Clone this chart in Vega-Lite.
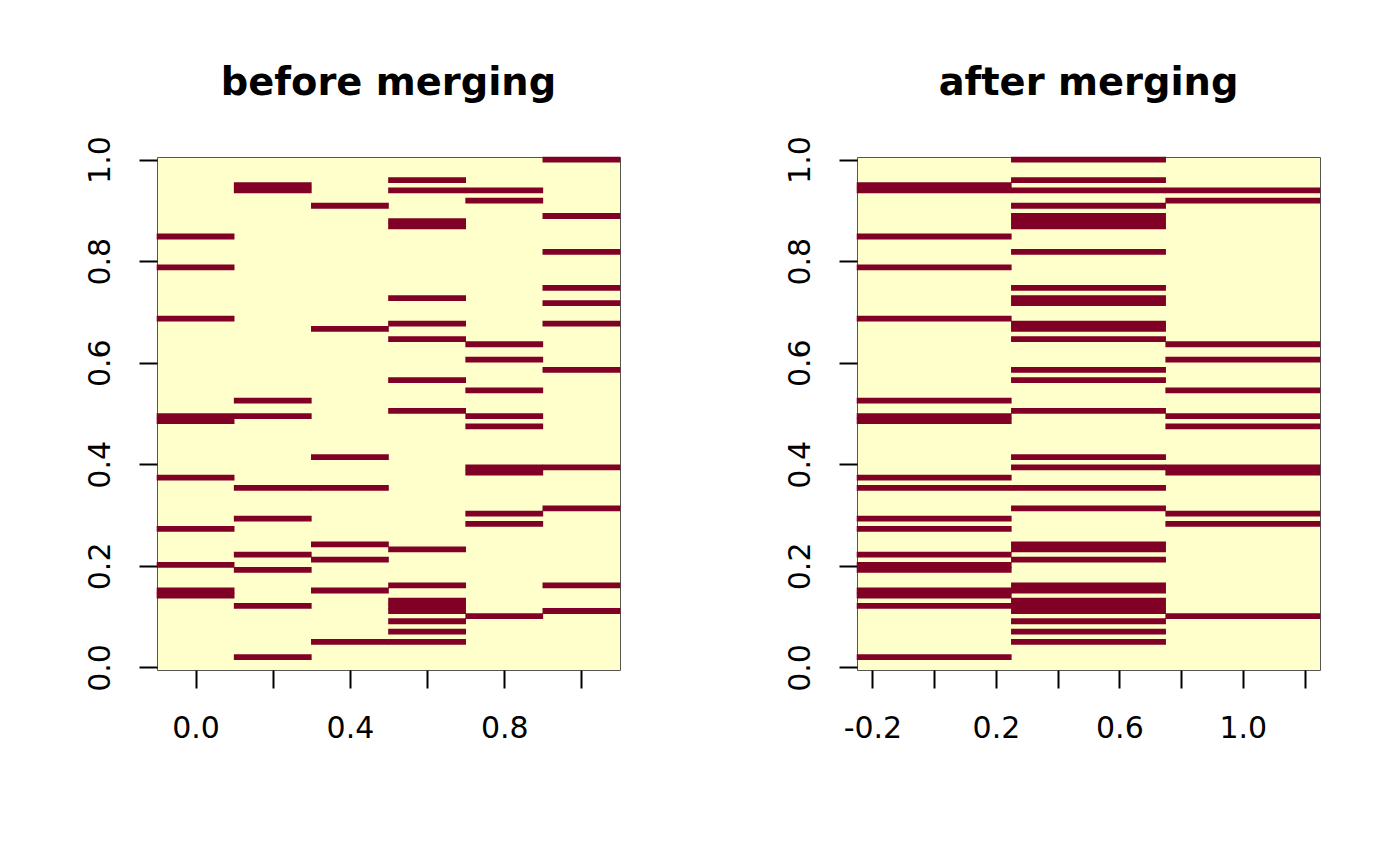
{
  "$schema": "https://vega.github.io/schema/vega-lite/v6.json",
  "background": "white",
  "padding": {"left": 84, "top": 63, "right": 5, "bottom": 5},
  "datasets": {
    "before": [
      {"x": 0.0, "y": 0.8485, "v": 1}, {"x": 0.0, "y": 0.7879, "v": 1}, {"x": 0.0, "y": 0.6869, "v": 1}, {"x": 0.0, "y": 0.4949, "v": 1}, {"x": 0.0, "y": 0.4848, "v": 1},
      {"x": 0.0, "y": 0.3737, "v": 1}, {"x": 0.0, "y": 0.2727, "v": 1}, {"x": 0.0, "y": 0.2020, "v": 1}, {"x": 0.0, "y": 0.1515, "v": 1}, {"x": 0.0, "y": 0.1414, "v": 1},
      {"x": 0.2, "y": 0.9495, "v": 1}, {"x": 0.2, "y": 0.9394, "v": 1}, {"x": 0.2, "y": 0.5253, "v": 1}, {"x": 0.2, "y": 0.4949, "v": 1}, {"x": 0.2, "y": 0.3535, "v": 1},
      {"x": 0.2, "y": 0.2929, "v": 1}, {"x": 0.2, "y": 0.2222, "v": 1}, {"x": 0.2, "y": 0.1919, "v": 1}, {"x": 0.2, "y": 0.1212, "v": 1}, {"x": 0.2, "y": 0.0202, "v": 1},
      {"x": 0.4, "y": 0.9091, "v": 1}, {"x": 0.4, "y": 0.6667, "v": 1}, {"x": 0.4, "y": 0.4141, "v": 1}, {"x": 0.4, "y": 0.3535, "v": 1}, {"x": 0.4, "y": 0.2424, "v": 1},
      {"x": 0.4, "y": 0.2121, "v": 1}, {"x": 0.4, "y": 0.1515, "v": 1}, {"x": 0.4, "y": 0.0505, "v": 1},
      {"x": 0.6, "y": 0.9596, "v": 1}, {"x": 0.6, "y": 0.9394, "v": 1}, {"x": 0.6, "y": 0.8788, "v": 1}, {"x": 0.6, "y": 0.8687, "v": 1}, {"x": 0.6, "y": 0.7273, "v": 1},
      {"x": 0.6, "y": 0.6768, "v": 1}, {"x": 0.6, "y": 0.6465, "v": 1}, {"x": 0.6, "y": 0.5657, "v": 1}, {"x": 0.6, "y": 0.5051, "v": 1}, {"x": 0.6, "y": 0.2323, "v": 1},
      {"x": 0.6, "y": 0.1616, "v": 1}, {"x": 0.6, "y": 0.1313, "v": 1}, {"x": 0.6, "y": 0.1212, "v": 1}, {"x": 0.6, "y": 0.1111, "v": 1}, {"x": 0.6, "y": 0.0909, "v": 1},
      {"x": 0.6, "y": 0.0707, "v": 1}, {"x": 0.6, "y": 0.0505, "v": 1},
      {"x": 0.8, "y": 0.9394, "v": 1}, {"x": 0.8, "y": 0.9192, "v": 1}, {"x": 0.8, "y": 0.6364, "v": 1}, {"x": 0.8, "y": 0.6061, "v": 1}, {"x": 0.8, "y": 0.5455, "v": 1},
      {"x": 0.8, "y": 0.4949, "v": 1}, {"x": 0.8, "y": 0.4747, "v": 1}, {"x": 0.8, "y": 0.3939, "v": 1}, {"x": 0.8, "y": 0.3838, "v": 1}, {"x": 0.8, "y": 0.3030, "v": 1},
      {"x": 0.8, "y": 0.2828, "v": 1}, {"x": 0.8, "y": 0.1010, "v": 1},
      {"x": 1.0, "y": 1.0, "v": 1}, {"x": 1.0, "y": 0.8889, "v": 1}, {"x": 1.0, "y": 0.8182, "v": 1}, {"x": 1.0, "y": 0.7475, "v": 1}, {"x": 1.0, "y": 0.7172, "v": 1},
      {"x": 1.0, "y": 0.6768, "v": 1}, {"x": 1.0, "y": 0.5859, "v": 1}, {"x": 1.0, "y": 0.3939, "v": 1}, {"x": 1.0, "y": 0.3131, "v": 1}, {"x": 1.0, "y": 0.1616, "v": 1},
      {"x": 1.0, "y": 0.1111, "v": 1}
    ],
    "after": [
      {"x": 0.0, "y": 0.9495, "v": 1}, {"x": 0.0, "y": 0.9394, "v": 1}, {"x": 0.0, "y": 0.8485, "v": 1}, {"x": 0.0, "y": 0.7879, "v": 1}, {"x": 0.0, "y": 0.6869, "v": 1},
      {"x": 0.0, "y": 0.5253, "v": 1}, {"x": 0.0, "y": 0.4949, "v": 1}, {"x": 0.0, "y": 0.4848, "v": 1}, {"x": 0.0, "y": 0.3737, "v": 1}, {"x": 0.0, "y": 0.3535, "v": 1},
      {"x": 0.0, "y": 0.2929, "v": 1}, {"x": 0.0, "y": 0.2727, "v": 1}, {"x": 0.0, "y": 0.2222, "v": 1}, {"x": 0.0, "y": 0.2020, "v": 1}, {"x": 0.0, "y": 0.1919, "v": 1},
      {"x": 0.0, "y": 0.1515, "v": 1}, {"x": 0.0, "y": 0.1414, "v": 1}, {"x": 0.0, "y": 0.1212, "v": 1}, {"x": 0.0, "y": 0.0202, "v": 1},
      {"x": 0.5, "y": 1.0, "v": 1}, {"x": 0.5, "y": 0.9596, "v": 1}, {"x": 0.5, "y": 0.9394, "v": 1}, {"x": 0.5, "y": 0.9091, "v": 1}, {"x": 0.5, "y": 0.8889, "v": 1},
      {"x": 0.5, "y": 0.8788, "v": 1}, {"x": 0.5, "y": 0.8687, "v": 1}, {"x": 0.5, "y": 0.8182, "v": 1}, {"x": 0.5, "y": 0.7475, "v": 1}, {"x": 0.5, "y": 0.7273, "v": 1},
      {"x": 0.5, "y": 0.7172, "v": 1}, {"x": 0.5, "y": 0.6768, "v": 1}, {"x": 0.5, "y": 0.6667, "v": 1}, {"x": 0.5, "y": 0.6465, "v": 1}, {"x": 0.5, "y": 0.5859, "v": 1},
      {"x": 0.5, "y": 0.5657, "v": 1}, {"x": 0.5, "y": 0.5051, "v": 1}, {"x": 0.5, "y": 0.4141, "v": 1}, {"x": 0.5, "y": 0.3939, "v": 1}, {"x": 0.5, "y": 0.3535, "v": 1},
      {"x": 0.5, "y": 0.3131, "v": 1}, {"x": 0.5, "y": 0.2424, "v": 1}, {"x": 0.5, "y": 0.2323, "v": 1}, {"x": 0.5, "y": 0.2121, "v": 1}, {"x": 0.5, "y": 0.1616, "v": 1},
      {"x": 0.5, "y": 0.1515, "v": 1}, {"x": 0.5, "y": 0.1313, "v": 1}, {"x": 0.5, "y": 0.1212, "v": 1}, {"x": 0.5, "y": 0.1111, "v": 1}, {"x": 0.5, "y": 0.0909, "v": 1},
      {"x": 0.5, "y": 0.0707, "v": 1}, {"x": 0.5, "y": 0.0505, "v": 1},
      {"x": 1.0, "y": 0.9394, "v": 1}, {"x": 1.0, "y": 0.9192, "v": 1}, {"x": 1.0, "y": 0.6364, "v": 1}, {"x": 1.0, "y": 0.6061, "v": 1}, {"x": 1.0, "y": 0.5455, "v": 1},
      {"x": 1.0, "y": 0.4949, "v": 1}, {"x": 1.0, "y": 0.4747, "v": 1}, {"x": 1.0, "y": 0.3939, "v": 1}, {"x": 1.0, "y": 0.3838, "v": 1}, {"x": 1.0, "y": 0.3030, "v": 1},
      {"x": 1.0, "y": 0.2828, "v": 1}, {"x": 1.0, "y": 0.1010, "v": 1}
    ]
  },
  "config": {
    "font": "DejaVu Sans",
    "view": {"stroke": "#555555", "strokeWidth": 1, "fill": "#FFFFCC"},
    "axis": {
      "domain": false, "grid": false, "ticks": true, "tickSize": 18, "tickColor": "#000000", "tickWidth": 2,
      "labelFont": "DejaVu Sans", "labelFontSize": 30, "labelColor": "#000000", "labelFlush": false, "labelOverlap": false, "title": null
    },
    "axisX": {"labelPadding": 25},
    "axisY": {"labelAngle": 270, "labelAlign": "center", "labelBaseline": "bottom", "labelPadding": 24},
    "title": {"font": "DejaVu Sans", "fontSize": 38.4, "fontWeight": "bold", "color": "#000000", "anchor": "middle", "baseline": "alphabetic", "offset": 32}
  },
  "spacing": 237,
  "bounds": "flush",
  "hconcat": [
    {
      "width": 463, "height": 513,
      "title": {"text": "before merging"},
      "data": {"name": "before"},
      "mark": {"type": "rect", "width": 77.8, "height": 5.8},
      "encoding": {
        "x": {"field": "x", "type": "quantitative", "scale": {"domain": [-0.1, 1.1], "nice": false, "zero": false},
              "axis": {"values": [0, 0.2, 0.4, 0.6, 0.8, 1.0], "format": ".1f", "labelExpr": "indexof([0, 4, 8], round(datum.value * 10)) >= 0 ? replace(datum.label, '−', '-') : ''"}},
        "y": {"field": "y", "type": "quantitative", "scale": {"domain": [-0.00505, 1.00505], "nice": false, "zero": false},
              "axis": {"values": [0, 0.2, 0.4, 0.6, 0.8, 1.0], "format": ".1f"}},
        "color": {"field": "v", "type": "quantitative", "scale": {"domain": [0, 1], "range": ["#FFFFCC", "#800026"]}, "legend": null}
      }
    },
    {
      "width": 463, "height": 513,
      "title": {"text": "after merging"},
      "data": {"name": "after"},
      "mark": {"type": "rect", "width": 154.9, "height": 5.8},
      "encoding": {
        "x": {"field": "x", "type": "quantitative", "scale": {"domain": [-0.25, 1.25], "nice": false, "zero": false},
              "axis": {"values": [-0.2, 0, 0.2, 0.4, 0.6, 0.8, 1.0, 1.2], "format": ".1f", "labelExpr": "indexof([-2, 2, 6, 10], round(datum.value * 10)) >= 0 ? replace(datum.label, '−', '-') : ''"}},
        "y": {"field": "y", "type": "quantitative", "scale": {"domain": [-0.00505, 1.00505], "nice": false, "zero": false},
              "axis": {"values": [0, 0.2, 0.4, 0.6, 0.8, 1.0], "format": ".1f"}},
        "color": {"field": "v", "type": "quantitative", "scale": {"domain": [0, 1], "range": ["#FFFFCC", "#800026"]}, "legend": null}
      }
    }
  ]
}
